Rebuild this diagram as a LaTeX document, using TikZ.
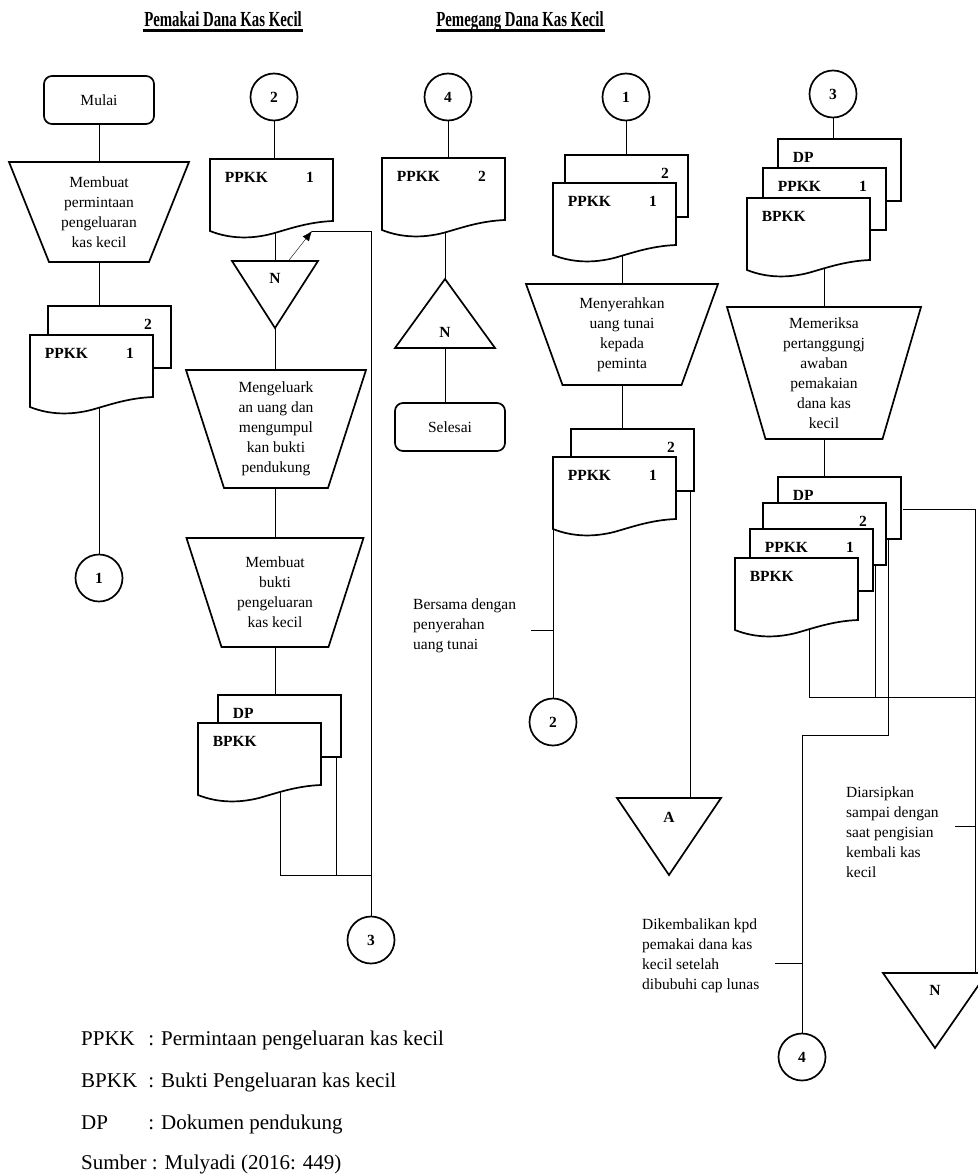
\documentclass[tikz,border=0pt]{standalone}
\usepackage{fontspec}
\setmainfont{Liberation Serif}
\usepackage{graphicx}
\usetikzlibrary{arrows.meta}
\pgfdeclarelayer{background}
\pgfsetlayers{background,main}

\newcommand\flowfont{\fontsize{15.5}{20}\selectfont}
\newcommand\docfont{\fontsize{15.5}{18}\selectfont\bfseries}
\newcommand\legendfont{\fontsize{21}{25}\selectfont}

% back sheet of a stack: name, left, top, label, copy number
\newcommand\backdoc[5]{%
  \draw[sheet] (#2,#3) rectangle ++(123,62);
  \node[anchor=north west,inner sep=0,text height=23pt,text depth=39pt,font=\docfont] at (#2,#3) (#1)
    {\makebox[123pt][l]{\hspace{14pt}#4\hfill#5\hspace{20pt}}};}
% front sheet with the wavy edge
\newcommand\frontdoc[5]{%
  \draw[sheet] (#2,#3) -- ++(123,0) -- ++(0,62)
    .. controls +(-25,1) and +(18,-5) .. ++(-62,13)
    .. controls +(-20,5) and +(20,8) .. ++(-61,-3) -- cycle;
  \node[anchor=north west,inner sep=0,text height=23pt,text depth=52pt,font=\docfont] at (#2,#3) (#1)
    {\makebox[123pt][l]{\hspace{14pt}#4\hfill#5\hspace{20pt}}};}
% manual operation: name, centre x, top, top width, bottom width, height, text
\newcommand\manop[7]{%
  \draw[sheet] ({#2-#4/2},#3) -- ++(#4,0) -- ({#2+#5/2},{#3+#6}) -- ++(-#5,0) -- cycle;
  \node[align=center,font=\flowfont] at (#2,{#3+#6/2}) (#1) {#7};}

\begin{document}
\begin{tikzpicture}[x=1pt,y=-1pt,line width=1.7pt,
  sheet/.style={draw,fill=white},
  term/.style={draw,fill=white,rounded corners=8pt,minimum width=110pt,minimum height=48pt,font=\flowfont},
  conn/.style={circle,draw,fill=white,minimum size=47pt,inner sep=0,font=\docfont},
  note/.style={anchor=west,align=left,font=\flowfont},
  head/.style={anchor=base,inner sep=0,font=\fontsize{14.8}{16}\selectfont\bfseries}]
\useasboundingbox (0,0) rectangle (977,1175);

% headings
\node[head] at (223,27) (h1) {\scalebox{1}[1.45]{Pemakai Dana Kas Kecil}};
\node[head] at (520,27) (h2) {\scalebox{1}[1.45]{Pemegang Dana Kas Kecil}};
\draw[line width=3pt] ([yshift=-3.5pt]h1.base west) -- ([yshift=-3.5pt]h1.base east);
\draw[line width=3pt] ([yshift=-3.5pt]h2.base west) -- ([yshift=-3.5pt]h2.base east);

% pemakai: request
\node[term] at (99,100) (mulai) {Mulai};
\manop{tMinta}{99}{162}{180}{100}{100}{Membuat\\permintaan\\pengeluaran\\kas kecil}
\backdoc{d1b}{48}{306}{}{2}
\frontdoc{d1}{30}{335}{PPKK}{1}
\node[conn] at (99,578) (c1) {1};

% pemakai: spending
\node[conn] at (274,97) (c2) {2};
\frontdoc{d2}{210}{159}{PPKK}{1}
\draw[sheet] (232,261) -- (318,261) -- (275,328) -- cycle;
\node[font=\docfont] at (275,278) (nA) {N};
\coordinate (k1) at (312,231);
\manop{tKeluar}{276}{370}{180}{104}{118}{Mengeluark\\an uang dan\\mengumpul\\kan bukti\\pendukung}
\manop{tBukti}{275}{538}{177}{107}{109}{Membuat\\bukti\\pengeluaran\\kas kecil}
\backdoc{dp2}{218}{695}{DP}{}
\frontdoc{bpkk2}{198}{723}{BPKK}{}
\coordinate (j1) at (371,875);
\node[conn] at (371,940) (c3) {3};

% pemakai: end
\node[conn] at (448,97) (c4) {4};
\frontdoc{d4}{382}{158}{PPKK}{2}
\draw[sheet] (395,348) -- (495,348) -- (445,279) -- cycle;
\node[font=\docfont] at (445,332) (nB) {N};
\node[term] at (450,427) (selesai) {Selesai};

% pemegang: paying out
\node[conn] at (626,97) (c1b) {1};
\backdoc{dA2}{565}{155}{}{2}
\frontdoc{dA}{553}{183}{PPKK}{1}
\manop{tSerah}{622}{284}{192}{119}{101}{Menyerahkan\\uang tunai\\kepada\\peminta}
\backdoc{dB2}{571}{429}{}{2}
\frontdoc{dB}{553}{457}{PPKK}{1}
\node[note] at (409,626) (nSerah) {Bersama dengan\\penyerahan\\uang tunai};
\coordinate (tk1) at (531,630);
\node[conn] at (553,722) (c2b) {2};
\draw[sheet] (617,798) -- (721,798) -- (669,875) -- cycle;
\node[font=\docfont] at (669,817) (triA) {A};

% pemegang: checking
\node[conn] at (833,94) (c3b) {3};
\backdoc{dC1}{778}{139}{DP}{}
\backdoc{dC2}{763}{168}{PPKK}{1}
\frontdoc{dC3}{747}{198}{BPKK}{}
\manop{tPeriksa}{824}{307}{194}{117}{132}{Memeriksa\\pertanggungj\\awaban\\pemakaian\\dana kas\\kecil}
\backdoc{dD1}{778}{477}{DP}{}
\backdoc{dD2}{763}{503}{}{2}
\backdoc{dD3}{750}{529}{PPKK}{1}
\frontdoc{dD4}{735}{558}{BPKK}{}
\node[note] at (842,832) (nArsip) {Diarsipkan\\sampai dengan\\saat pengisian\\kembali kas\\kecil};
\node[note] at (638,956) (nKembali) {Dikembalikan kpd\\pemakai dana kas\\kecil setelah\\dibubuhi cap lunas};
\draw[sheet] (883,973) -- (987,973) -- (935,1048) -- cycle;
\node[font=\docfont] at (935,990) (nC) {N};
\node[conn] at (802,1057) (c4b) {4};
\coordinate (rJoin) at (975,697);
\coordinate (rEnd) at (975,980);
\coordinate (kBend) at (802,735);
\coordinate (tk2) at (775,963);
\coordinate (tk3) at (955,826);

% legend
\node[anchor=base west,font=\legendfont] at (77,1045) (lg1) {\makebox[3.2em][l]{PPKK}: Permintaan pengeluaran kas kecil};
\node[anchor=base west,font=\legendfont] at (77,1087) (lg2) {\makebox[3.2em][l]{BPKK}: Bukti Pengeluaran kas kecil};
\node[anchor=base west,font=\legendfont] at (77,1129) (lg3) {\makebox[3.2em][l]{DP}: Dokumen pendukung};
\node[anchor=base west,font=\legendfont] at (77,1169) (lg4) {Sumber : Mulyadi (2016: 449)};

% flow lines go behind the shapes
\begin{pgfonlayer}{background}
\draw (mulai) -- (tMinta);
\draw (tMinta) -- (tMinta |- d1b.center);
\draw (c1) -- (c1 |- d1.center);
\draw (c2) -- (c2 |- d2.center);
\draw (nA) -- (nA |- d2.center);
\draw[-{Latex[length=10pt,width=8pt]}] (nA) -- (k1);
\draw (k1) -| (c3);
\draw (nA) -- (nA |- tKeluar.center);
\draw (tBukti) -- (tBukti |- tKeluar.center);
\draw (tBukti) -- (tBukti |- dp2.center);
\draw ([xshift=20pt]bpkk2.center) |- (j1);
\draw ([xshift=-7pt]dp2.east) |- (j1);
\draw (c4) -- (c4 |- d4.center);
\draw (nB) -- (nB |- d4.center);
\draw (nB) -- (nB |- selesai.center);
\draw (c1b) -- (c1b |- dA2.center);
\draw (tSerah) -- (tSerah |- dA.center);
\draw (tSerah) -- (tSerah |- dB2.center);
\draw (dB.west) -- (c2b);
\draw (tk1) -- (tk1 -| dB.west);
\draw ([xshift=-6pt]dB2.east) |- (triA);
\draw (c3b) -- (c3b |- dC1.center);
\draw (tPeriksa) -- (tPeriksa |- dC3.center);
\draw (tPeriksa) -- (tPeriksa |- dD1.center);
\draw (dD1.east) -| (rEnd);
\draw ([xshift=12pt]dD4.center) |- (rJoin);
\draw (dD3.east) -- (dD3.east |- rJoin);
\draw (dD2.east) |- (kBend) -- (c4b);
\draw (tk2) -- (tk2 -| c4b);
\draw (tk3) -- (tk3 -| rEnd);
\end{pgfonlayer}
\end{tikzpicture}
\end{document}
